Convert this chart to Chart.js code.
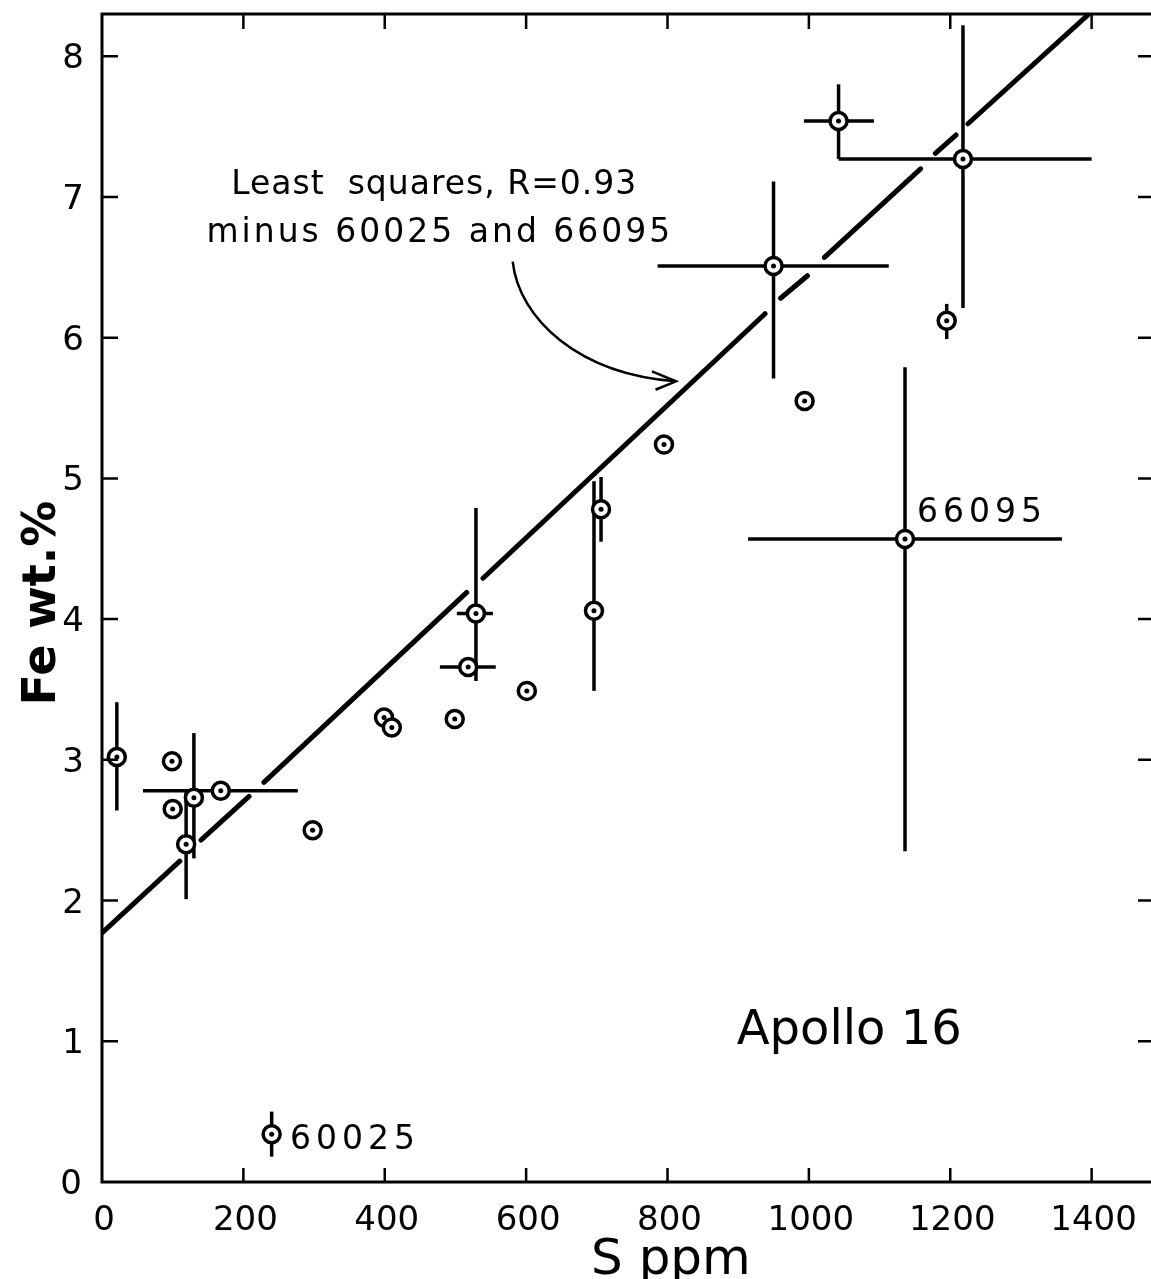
<!DOCTYPE html>
<html>
<head>
<meta charset="utf-8">
<title>Apollo 16 - Fe vs S</title>
<script src="https://cdn.jsdelivr.net/npm/chart.js@4.4.1/dist/chart.umd.min.js"></script>
<style>
    html, body { margin: 0; padding: 0; background: #fff; overflow: hidden; }
    #chart-box { position: absolute; left: 0; top: 0; width: 1151px; height: 1279px; }
</style>
</head>
<body>
<div id="chart-box"><canvas id="fe-chart"></canvas></div>
<script>
// Apollo 16 soils: S (ppm) against Fe (wt.%)
var sPpm   = [21, 99, 100, 130, 119, 168, 298, 399, 410, 499, 518, 529, 601, 696, 706, 795, 950, 994, 1042, 1218, 1195, 1136, 240];
var feWt   = [3.02, 2.99, 2.65, 2.73, 2.40, 2.78, 2.50, 3.30, 3.23, 3.29, 3.66, 4.04, 3.49, 4.06, 4.78, 5.24, 6.51, 5.55, 7.54, 7.27, 6.12, 4.57, 0.34];
// error bar ends (null = no bar)
var feLow  = [2.64, null, null, 2.30, 2.01, null, null, null, null, null, null, 3.56, null, 3.49, 4.55, null, 5.71, null, 7.27, 6.21, 5.99, 2.35, 0.18];
var feHigh = [3.41, null, null, 3.19, 2.79, null, null, null, null, null, null, 4.79, null, 4.98, 5.01, null, 7.11, null, 7.80, 8.22, 6.24, 5.79, 0.50];
var sLow   = [null, null, null, null, null, 58, null, null, null, null, 478, 502, null, null, null, null, 786, null, 993, 1042, null, 914, null];
var sHigh  = [null, null, null, null, null, 277, null, null, null, null, 557, 553, null, null, null, null, 1113, null, 1092, 1400, null, 1358, null];

// least squares line, drawn in broken pieces as in the figure
var fitSegS  = [[0, 110], [140, 208], [229, 516], [539, 938], [960, 998], [1022, 1158], [1179, 1208], [1225, 1394]];
var fitSegFe = [[1.77, 2.28], [2.43, 2.74], [2.84, 4.19], [4.29, 6.17], [6.28, 6.44], [6.57, 7.20], [7.31, 7.44], [7.52, 8.29]];

var xTicks = [0, 200, 400, 600, 800, 1000, 1200, 1400];
var yTicks = [0, 1, 2, 3, 4, 5, 6, 7, 8];

var samplePoints = sPpm.map(function (s, i) { return { x: s, y: feWt[i] }; });

var fitPoints = [];
fitSegS.forEach(function (seg, i) {
    if (i > 0) fitPoints.push({ x: seg[0], y: null });
    fitPoints.push({ x: seg[0], y: fitSegFe[i][0] });
    fitPoints.push({ x: seg[1], y: fitSegFe[i][1] });
});

var FONT = '"DejaVu Sans", "Liberation Sans", sans-serif';

// error bars go under the sample circles
var errorBars = {
    id: 'errorBars',
    beforeDatasetDraw: function (chart, args) {
        if (args.index !== 1) return;
        var ctx = chart.ctx, x = chart.scales.x, y = chart.scales.y;
        ctx.save();
        ctx.strokeStyle = '#000';
        ctx.lineWidth = 3.5;
        ctx.lineCap = 'butt';
        for (var i = 0; i < sPpm.length; i++) {
            var px = x.getPixelForValue(sPpm[i]);
            var py = y.getPixelForValue(feWt[i]);
            if (feLow[i] !== null) {
                ctx.beginPath();
                ctx.moveTo(px, y.getPixelForValue(feLow[i]));
                ctx.lineTo(px, y.getPixelForValue(feHigh[i]));
                ctx.stroke();
            }
            if (sLow[i] !== null) {
                ctx.beginPath();
                ctx.moveTo(x.getPixelForValue(sLow[i]), py);
                ctx.lineTo(x.getPixelForValue(sHigh[i]), py);
                ctx.stroke();
            }
        }
        ctx.restore();
    }
};

// frame, inward ticks, tick labels, axis titles and the notes
var decorations = {
    id: 'decorations',
    afterDraw: function (chart) {
        var ctx = chart.ctx, x = chart.scales.x, y = chart.scales.y, a = chart.chartArea;
        ctx.save();
        ctx.strokeStyle = '#000';
        ctx.fillStyle = '#000';

        ctx.lineWidth = 3;
        ctx.beginPath();
        ctx.moveTo(a.right, a.top);
        ctx.lineTo(a.left, a.top);
        ctx.lineTo(a.left, a.bottom);
        ctx.lineTo(a.right, a.bottom);
        ctx.stroke();

        ctx.lineWidth = 2.5;
        ctx.font = '34px ' + FONT;
        ctx.textBaseline = 'alphabetic';
        xTicks.forEach(function (v) {
            var px = x.getPixelForValue(v);
            if (v !== 0) {
                ctx.beginPath();
                ctx.moveTo(px, a.bottom); ctx.lineTo(px, a.bottom - 14);
                ctx.moveTo(px, a.top); ctx.lineTo(px, a.top + 15);
                ctx.stroke();
            }
            ctx.textAlign = 'center';
            ctx.fillText(String(v), px + 2, a.bottom + 48);
        });
        yTicks.forEach(function (v) {
            var py = y.getPixelForValue(v);
            if (v !== 0) {
                ctx.beginPath();
                ctx.moveTo(a.left, py); ctx.lineTo(a.left + 16, py);
                ctx.moveTo(a.right, py); ctx.lineTo(a.right - 13, py);
                ctx.stroke();
            }
            ctx.textAlign = 'right';
            ctx.fillText(String(v), v === 0 ? a.left - 20 : a.left - 18, py + 12);
        });

        // axis titles
        ctx.textAlign = 'left';
        ctx.font = '50px ' + FONT;
        ctx.fillText('S ppm', 591, 1274);
        ctx.save();
        ctx.translate(55, 603);
        ctx.rotate(-Math.PI / 2);
        ctx.textAlign = 'center';
        ctx.font = 'bold 46px ' + FONT;
        ctx.fillText('Fe wt.%', 0, 0);
        ctx.restore();

        // notes
        ctx.font = '33px ' + FONT;
        ctx.textAlign = 'center';
        ctx.letterSpacing = '1px';
        ctx.fillText('Least  squares, R=0.93', x.getPixelForValue(470), y.getPixelForValue(7.02));
        ctx.letterSpacing = '3px';
        ctx.fillText('minus 60025 and 66095', x.getPixelForValue(478), y.getPixelForValue(6.68));
        ctx.textAlign = 'left';
        ctx.letterSpacing = '5px';
        ctx.fillText('66095', x.getPixelForValue(1153), y.getPixelForValue(4.69));
        ctx.fillText('60025', x.getPixelForValue(266), y.getPixelForValue(0.235));
        ctx.letterSpacing = '0px';
        ctx.font = '48px ' + FONT;
        ctx.fillText('Apollo 16', x.getPixelForValue(898), y.getPixelForValue(0.98));

        // curved arrow to the fit line
        ctx.lineWidth = 2.5;
        ctx.beginPath();
        ctx.moveTo(x.getPixelForValue(581), y.getPixelForValue(6.54));
        ctx.bezierCurveTo(x.getPixelForValue(590), y.getPixelForValue(6.13),
                          x.getPixelForValue(675), y.getPixelForValue(5.74),
                          x.getPixelForValue(812), y.getPixelForValue(5.69));
        ctx.stroke();
        ctx.beginPath();
        ctx.moveTo(x.getPixelForValue(778), y.getPixelForValue(5.76));
        ctx.lineTo(x.getPixelForValue(812), y.getPixelForValue(5.69));
        ctx.lineTo(x.getPixelForValue(783), y.getPixelForValue(5.63));
        ctx.stroke();
        ctx.restore();
    }
};

var feChart = new Chart(document.getElementById('fe-chart'), {
    data: {
        datasets: [{
            type: 'line',
            label: 'Least squares',
            data: fitPoints,
            borderColor: '#000',
            borderWidth: 5,
            borderCapStyle: 'round',
            pointRadius: 0,
            spanGaps: false,
            order: 3
        }, {
            type: 'scatter',
            label: 'Samples',
            data: samplePoints,
            pointRadius: 8.5,
            borderWidth: 3.5,
            borderColor: '#000',
            backgroundColor: '#fff',
            order: 1
        }, {
            type: 'scatter',
            label: 'Centres',
            data: samplePoints,
            pointRadius: 2.5,
            borderWidth: 0,
            backgroundColor: '#000',
            order: 0
        }]
    },
    options: {
        responsive: true,
        maintainAspectRatio: false,
        devicePixelRatio: 1,
        animation: false,
        layout: { autoPadding: false, padding: { top: 14, right: 0, left: 102, bottom: 97 } },
        plugins: {
            legend: { display: false },
            tooltip: { enabled: false }
        },
        scales: {
            x: { type: 'linear', display: false, min: 0, max: 1484 },
            y: { type: 'linear', display: false, min: 0, max: 8.3 }
        }
    },
    plugins: [errorBars, decorations]
});
</script>
</body>
</html>
